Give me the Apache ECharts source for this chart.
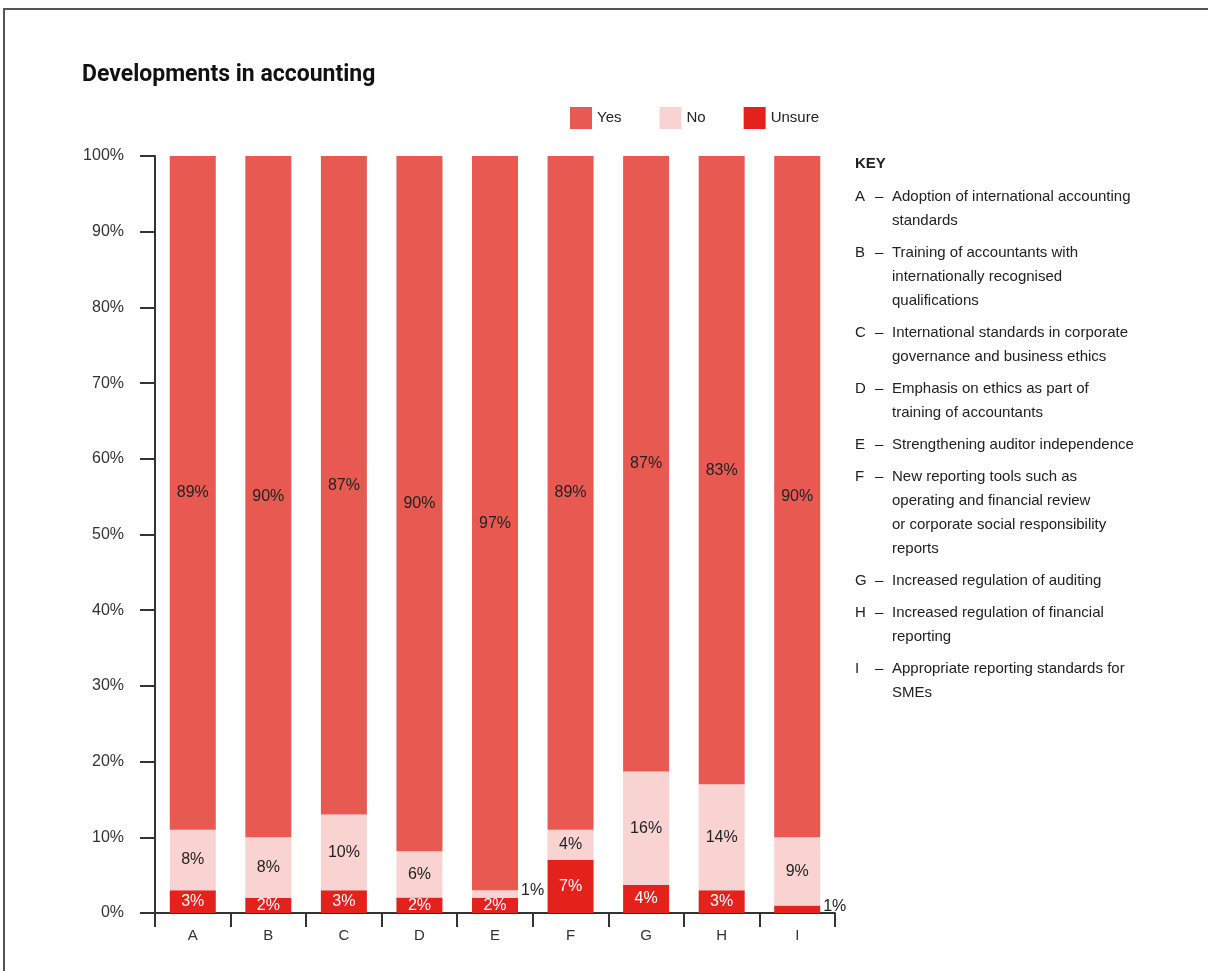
<!DOCTYPE html>
<html>
<head>
<meta charset="utf-8">
<title>Developments in accounting</title>
<script src="https://cdn.jsdelivr.net/npm/echarts@6/dist/echarts.min.js"></script>
<style>
  html, body { margin: 0; padding: 0; background: #fff; }
  #chart { width: 1208px; height: 971px; }
</style>
</head>
<body>
<div id="chart"></div>
<script>
// Survey responses per development (percent of respondents)
const categories = ['A', 'B', 'C', 'D', 'E', 'F', 'G', 'H', 'I'];
const yesValues    = [89, 90, 87, 90, 97, 89, 87, 83, 90];
const noValues     = [8, 8, 10, 6, 1, 4, 16, 14, 9];
const unsureValues = [3, 2, 3, 2, 2, 7, 4, 3, 1];

// Key descriptions, one entry per category, pre-broken into lines
const keyLetters = ['A', 'B', 'C', 'D', 'E', 'F', 'G', 'H', 'I'];
const keyTexts = [
  ['Adoption of international accounting', 'standards'],
  ['Training of accountants with', 'internationally recognised', 'qualifications'],
  ['International standards in corporate', 'governance and business ethics'],
  ['Emphasis on ethics as part of', 'training of accountants'],
  ['Strengthening auditor independence'],
  ['New reporting tools such as', 'operating and financial review', 'or corporate social responsibility', 'reports'],
  ['Increased regulation of auditing'],
  ['Increased regulation of financial', 'reporting'],
  ['Appropriate reporting standards for', 'SMEs']
];

const COLORS = { yes: '#E85A51', no: '#F8D3D2', unsure: '#E2221B' };
const TEXT = '#222';
const FONT = '"Liberation Sans", Arial, sans-serif';

// Each column is a 100% stack: shares are normalised by the column total
const totals = categories.map((_, i) => yesValues[i] + noValues[i] + unsureValues[i]);

function buildData(values) {
  return values.map((v, i) => {
    const item = { value: v / totals[i] * 100, raw: v };
    // very thin segments carry their label beside the bar
    if (v <= 1) {
      item.label = { position: 'right', distance: 3, color: TEXT, offset: [0, -3] };
    }
    return item;
  });
}

function makeSeries(name, values, color, labelColor) {
  return {
    name: name,
    type: 'bar',
    stack: 'total',
    barWidth: 46,
    itemStyle: { color: color },
    emphasis: { disabled: true },
    label: {
      show: true,
      position: 'inside',
      color: labelColor,
      fontFamily: FONT,
      fontSize: 16,
      formatter: p => p.data.raw + '%'
    },
    data: buildData(values)
  };
}

// Frame lines and the key block on the right
const graphics = [];
graphics.push({
  type: 'polyline',
  silent: true,
  shape: { points: [[4, 971], [4, 9], [1208, 9]] },
  style: { stroke: '#555', lineWidth: 2, fill: null }
});
graphics.push({
  type: 'text', x: 855, y: 164,
  style: { text: 'KEY', font: 'bold 15px ' + FONT, fill: TEXT, verticalAlign: 'middle' }
});
let cursor = 197;
keyLetters.forEach((letter, i) => {
  graphics.push({
    type: 'text', x: 855, y: cursor,
    style: { text: letter, font: '15px ' + FONT, fill: TEXT, verticalAlign: 'middle' }
  });
  graphics.push({
    type: 'text', x: 875, y: cursor,
    style: { text: '–', font: '15px ' + FONT, fill: TEXT, verticalAlign: 'middle' }
  });
  keyTexts[i].forEach((line, j) => {
    graphics.push({
      type: 'text', x: 892, y: cursor + j * 24,
      style: { text: line, font: '15px ' + FONT, fill: TEXT, verticalAlign: 'middle' }
    });
  });
  cursor += keyTexts[i].length * 24 + 8;
});

const chart = echarts.init(document.getElementById('chart'), null, { renderer: 'canvas' });
chart.setOption({
  animation: false,
  backgroundColor: '#fff',
  title: {
    text: 'Developments in accounting',
    left: 77,
    top: 59,
    textStyle: {
      fontFamily: 'Roboto, sans-serif',
      fontWeight: 'bold',
      fontSize: 23,
      color: '#111'
    }
  },
  legend: {
    data: ['Yes', 'No', 'Unsure'],
    left: 565,
    top: 102,
    itemWidth: 22,
    itemHeight: 22,
    itemGap: 38,
    icon: 'rect',
    selectedMode: false,
    textStyle: { fontFamily: FONT, fontSize: 15, color: TEXT, padding: [3, 0, 0, 0] }
  },
  grid: { left: 155, right: 373, top: 156, bottom: 58, containLabel: false },
  xAxis: {
    type: 'category',
    data: categories,
    axisLine: { lineStyle: { color: '#333', width: 2 } },
    axisTick: { show: true, length: 14, interval: 0, lineStyle: { color: '#333', width: 2 } },
    axisLabel: { fontFamily: FONT, fontSize: 15, color: '#333', margin: 15 }
  },
  yAxis: {
    type: 'value',
    min: 0,
    max: 100,
    interval: 10,
    axisLine: { show: true, lineStyle: { color: '#333', width: 2 } },
    axisTick: { show: true, length: 15, lineStyle: { color: '#333', width: 2 } },
    splitLine: { show: false },
    axisLabel: {
      fontFamily: FONT, fontSize: 16, color: '#333', margin: 31,
      formatter: '{value}%'
    }
  },
  series: [
    makeSeries('Unsure', unsureValues, COLORS.unsure, '#fff'),
    makeSeries('No', noValues, COLORS.no, TEXT),
    makeSeries('Yes', yesValues, COLORS.yes, TEXT)
  ],
  graphic: graphics
});
</script>
</body>
</html>
